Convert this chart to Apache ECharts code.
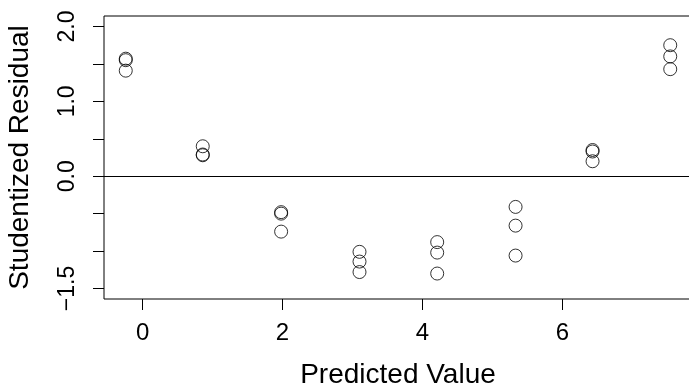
<!DOCTYPE html>
<html>
<head>
<meta charset="utf-8">
<script src="https://cdn.jsdelivr.net/npm/echarts@6/dist/echarts.min.js"></script>
<style>
html,body{margin:0;padding:0;background:#fff;}
#c{width:689px;height:389px;}
</style>
</head>
<body>
<div id="c"></div>
<script>
// Predicted values (x) and studentized residuals (y), 3 per group
var predicted = [-0.24,-0.24,-0.24, 0.86,0.86,0.86, 1.98,1.98,1.98, 3.10,3.10,3.10,
                 4.21,4.21,4.21, 5.33,5.33,5.33, 6.43,6.43,6.43, 7.54,7.54,7.54];
var residuals = [1.57,1.55,1.41, 0.40,0.29,0.28, -0.48,-0.50,-0.74, -1.01,-1.14,-1.28,
                 -0.88,-1.02,-1.30, -0.41,-0.66,-1.06, 0.35,0.33,0.20, 1.75,1.60,1.43];
var xTicks = [0, 2, 4, 6];
var yTicks = [-1.5, -1, -0.5, 0, 0.5, 1, 1.5, 2];
var yLabelValues = [-1.5, 0, 1, 2];
var yLabelText = {"-1.5": "\u22121.5", "0": "0.0", "1": "1.0", "2": "2.0"};

var points = predicted.map(function (x, i) { return [x, residuals[i]]; });
var FONT = "Liberation Sans";

var chart = echarts.init(document.getElementById('c'));
chart.setOption({
  animation: false,
  backgroundColor: '#fff',
  grid: {left: 104, top: 16, width: 588, height: 283, show: true,
         outerBoundsMode: 'none', containLabel: false,
         borderColor: '#000', borderWidth: 1, backgroundColor: 'transparent'},
  xAxis: {
    type: 'value', min: -0.551, max: 7.851,
    name: 'Predicted Value', nameLocation: 'middle', nameGap: 62,
    nameTextStyle: {fontFamily: FONT, fontSize: 28, color: '#000'},
    axisLine: {show: false, onZero: false},
    splitLine: {show: false},
    axisTick: {show: true, length: 11, customValues: xTicks, lineStyle: {color: '#000', width: 1}},
    axisLabel: {customValues: xTicks, margin: 22, fontFamily: FONT, fontSize: 24, color: '#000',
                hideOverlap: false, showMinLabel: true, showMaxLabel: true}
  },
  yAxis: {
    type: 'value', min: -1.64, max: 2.14,
    name: 'Studentized Residual', nameLocation: 'middle', nameGap: 70, nameRotate: 90,
    nameTextStyle: {fontFamily: FONT, fontSize: 28, color: '#000'},
    axisLine: {show: false, onZero: false},
    splitLine: {show: false},
    axisTick: {show: true, length: 11, customValues: yTicks, lineStyle: {color: '#000', width: 1}},
    axisLabel: {customValues: yLabelValues, rotate: 90, margin: 25, fontFamily: FONT, fontSize: 23,
                color: '#000', hideOverlap: false,
                formatter: function (v) { var k = String(Math.round(v * 10) / 10); return yLabelText[k] !== undefined ? yLabelText[k] : ''; }}
  },
  series: [{
    type: 'scatter',
    data: points,
    symbol: 'circle',
    symbolSize: 13,
    itemStyle: {color: 'transparent', borderColor: '#000', borderWidth: 1},
    emphasis: {disabled: true},
    markLine: {
      silent: true, symbol: ['none', 'none'], label: {show: false},
      lineStyle: {color: '#000', width: 1, type: 'solid'},
      data: [{yAxis: 0}]
    }
  }]
});
</script>
</body>
</html>
